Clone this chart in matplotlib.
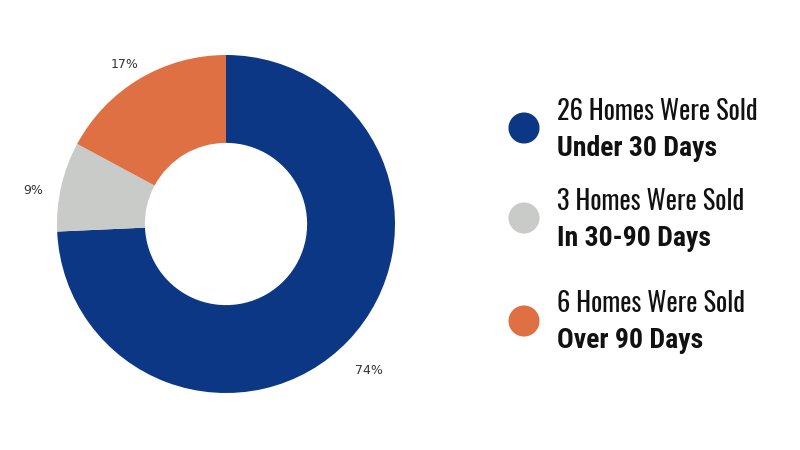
import matplotlib.pyplot as plt
from matplotlib import font_manager

counts = [26, 3, 6]
colors = ["#0B3784", "#C8CBC7", "#DE7044"]
line1 = ["26 Homes Were Sold", "3 Homes Were Sold", "6 Homes Were Sold"]
line2 = ["Under 30 Days", "In 30-90 Days", "Over 90 Days"]

# condensed faces if present, otherwise a smaller DejaVu Sans so it fits
installed = {f.name for f in font_manager.fontManager.ttflist}
if "Oswald" in installed:
    reg_font, reg_size = ["Oswald", "DejaVu Sans"], 19
else:
    reg_font, reg_size = ["DejaVu Sans"], 14
if "Roboto Condensed" in installed:
    bold_font, bold_size = ["Roboto Condensed", "DejaVu Sans"], 20
else:
    bold_font, bold_size = reg_font, reg_size

fig = plt.figure(figsize=(8, 4.5), dpi=100)

# donut: centre at (226, 224) px, outer radius 169 px
lim = 1.3
w = 169 * 2 * lim
ax = fig.add_axes([(226 - w / 2) / 800, (226 - w / 2) / 450, w / 800, w / 450])
wedges, texts, autotexts = ax.pie(
    counts, colors=colors, startangle=90, counterclock=False,
    radius=1.0, wedgeprops=dict(width=0.52, edgecolor="none"),
    autopct="%1.0f%%", pctdistance=1.17,
    textprops=dict(fontsize=9, color="#333333"))
# percentages sit a little lower in the original
for t in autotexts:
    x, y = t.get_position()
    t.set_position((x, y - 0.06))
ax.set_xlim(-lim, lim)
ax.set_ylim(-lim, lim)
ax.set_aspect("equal")
ax.axis("off")

# legend drawn by hand
lg = fig.add_axes([0, 0, 1, 1])
lg.set_xlim(0, 800)
lg.set_ylim(450, 0)
lg.axis("off")
dot_y = [128, 218, 321]
for i in range(3):
    lg.scatter(524, dot_y[i], s=500, color=colors[i], edgecolors="none")
    lg.text(557, dot_y[i] - 17, line1[i], fontsize=reg_size, family=reg_font,
            va="center", ha="left", color="#111111")
    lg.text(557, dot_y[i] + 20, line2[i], fontsize=bold_size, family=bold_font,
            fontweight="bold", va="center", ha="left", color="#111111")

fig.savefig("out.png", dpi=100)
